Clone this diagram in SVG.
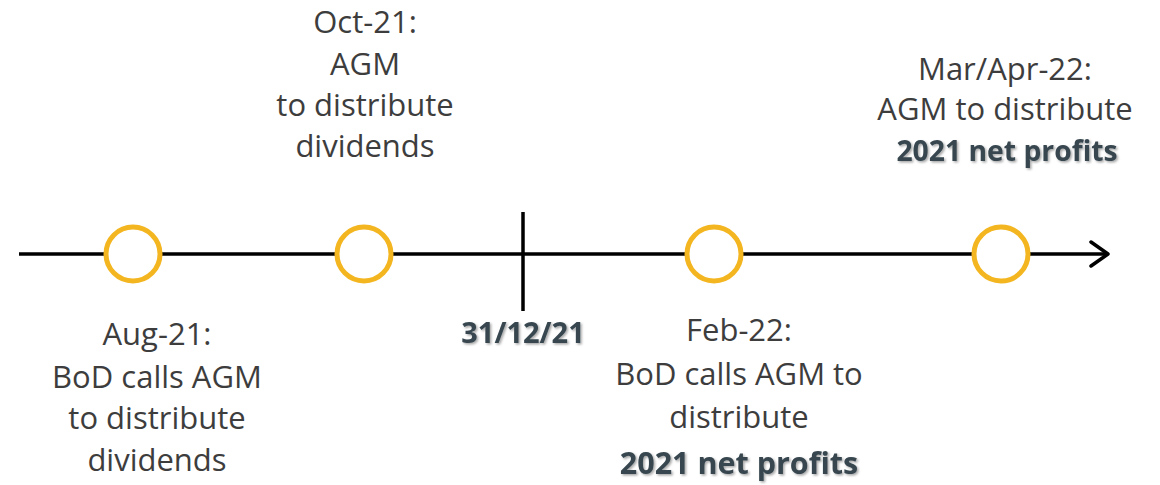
<svg xmlns="http://www.w3.org/2000/svg" width="1160" height="485" viewBox="0 0 1160 485">
  <defs>
    <style>
      .lbl { font-family: "Open Sans", "Liberation Sans", sans-serif; font-size: 31px; fill: #3d3d3d; text-anchor: middle; }
      .hl { font-weight: bold; font-size: 30.5px; fill: #37474f; filter: url(#shadow); }
      .date { font-size: 29px; }
      .small { font-size: 28.3px; }
      .axis { stroke: #000; stroke-width: 3.5; fill: none; }
      .event { fill: #fff; stroke: #F4B620; stroke-width: 5; }
    </style>
    <filter id="shadow" x="-10%" y="-30%" width="120%" height="160%">
      <feDropShadow dx="1.5" dy="1.5" stdDeviation="1" flood-color="#000" flood-opacity="0.35"/>
    </filter>
  </defs>

  <rect width="1160" height="485" fill="#fff"/>

  <!-- timeline axis and year-end marker -->
  <g id="connectors">
    <line class="axis" x1="19" y1="254" x2="1108" y2="254"/>
    <polyline class="axis" points="1091,242 1108,254 1091,266" stroke-linecap="round" stroke-linejoin="round"/>
    <line class="axis" x1="523" y1="212" x2="523" y2="311"/>
  </g>

  <g id="aug21">
    <circle class="event" cx="133" cy="254" r="27"/>
    <text class="lbl" x="157" y="345">Aug-21:</text>
    <text class="lbl" x="157" y="388">BoD calls AGM</text>
    <text class="lbl" x="157" y="429">to distribute</text>
    <text class="lbl" x="157" y="471">dividends</text>
  </g>

  <g id="oct21">
    <circle class="event" cx="364" cy="254" r="27"/>
    <text class="lbl" x="365" y="33">Oct-21:</text>
    <text class="lbl" x="365" y="75">AGM</text>
    <text class="lbl" x="365" y="116">to distribute</text>
    <text class="lbl" x="365" y="157">dividends</text>
  </g>

  <g id="yearend">
    <text class="lbl hl date" x="523" y="343">31/12/21</text>
  </g>

  <g id="feb22">
    <circle class="event" cx="714" cy="254" r="27"/>
    <text class="lbl" x="739" y="341">Feb-22:</text>
    <text class="lbl" x="739" y="385">BoD calls AGM to</text>
    <text class="lbl" x="739" y="428">distribute</text>
    <text class="lbl hl" x="739" y="474">2021 net profits</text>
  </g>

  <g id="mar22">
    <circle class="event" cx="1001" cy="254" r="27"/>
    <text class="lbl" x="1005" y="80">Mar/Apr-22:</text>
    <text class="lbl" x="1005" y="120">AGM to distribute</text>
    <text class="lbl hl small" x="1007" y="161">2021 net profits</text>
  </g>
</svg>
